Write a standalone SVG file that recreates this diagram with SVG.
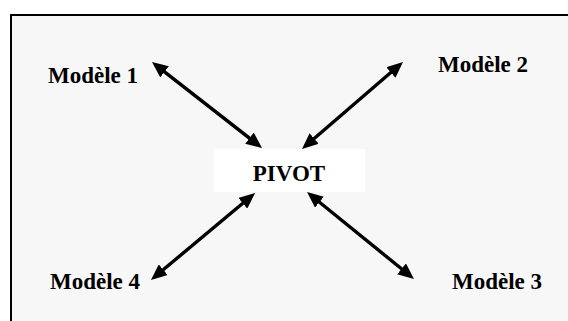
<svg xmlns="http://www.w3.org/2000/svg" width="568" height="321" viewBox="0 0 568 321">
  <defs>
    <marker id="head" viewBox="0 0 16 14" markerWidth="16" markerHeight="14" markerUnits="userSpaceOnUse" refX="11" refY="7" orient="auto-start-reverse">
      <path d="M0,0 L16,7 L0,14 Z" fill="#000"/>
    </marker>
  </defs>
  <style>
    .label { font-family: "Liberation Serif", "Times New Roman", serif; font-weight: bold; font-size: 23px; fill: #000; }
    .link { stroke: #000; stroke-width: 3.4; fill: none; marker-start: url(#head); marker-end: url(#head); }
  </style>

  <!-- page background and frame -->
  <rect x="0" y="0" width="568" height="321" fill="#ffffff"/>
  <rect x="11" y="15" width="557" height="306" fill="#f7f7f7"/>
  <path d="M11,321 L11,15 L568,15" stroke="#000" stroke-width="2" fill="none"/>

  <!-- connectors -->
  <g id="connectors">
    <line class="link" x1="155.9" y1="65.1" x2="258.1" y2="144.9"/>
    <line class="link" x1="399.2" y1="65.3" x2="305.8" y2="145.7"/>
    <line class="link" x1="251.2" y1="196.2" x2="154.8" y2="276.8"/>
    <line class="link" x1="310.9" y1="195.2" x2="410.1" y2="275.8"/>
  </g>

  <!-- central node -->
  <g id="pivot">
    <rect x="214" y="149" width="151" height="43" fill="#ffffff"/>
    <text class="label" x="289" y="181" text-anchor="middle">PIVOT</text>
  </g>

  <!-- model nodes -->
  <g id="modele1">
    <text class="label" x="48" y="83">Modèle 1</text>
  </g>
  <g id="modele2">
    <text class="label" x="438" y="72">Modèle 2</text>
  </g>
  <g id="modele3">
    <text class="label" x="452" y="289">Modèle 3</text>
  </g>
  <g id="modele4">
    <text class="label" x="50" y="289">Modèle 4</text>
  </g>
</svg>
